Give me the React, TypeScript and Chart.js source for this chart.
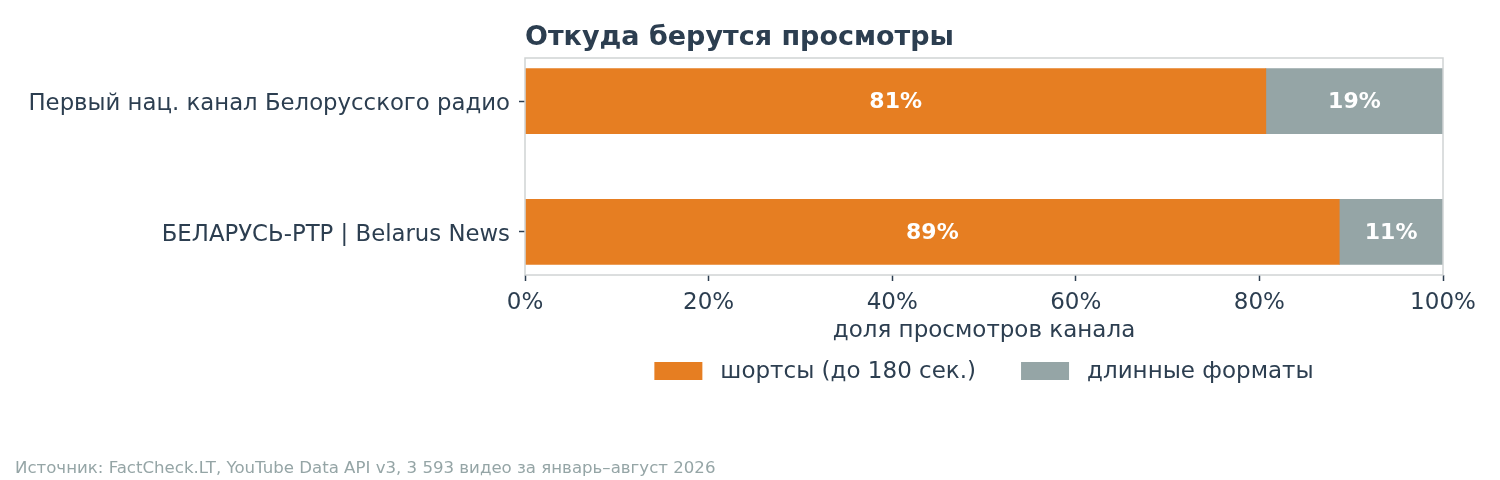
import { useEffect, useRef } from "react";
import { Chart, ChartConfiguration, registerables } from "chart.js";

Chart.register(...registerables);

const channels = ["Первый нац. канал Белорусского радио", "БЕЛАРУСЬ-РТР | Belarus News"];
const shortsShare = [80.7, 88.7];
const longShare = [19.3, 11.3];
const seriesNames = ["шортсы (до 180 сек.)", "длинные форматы"];
const seriesColors = ["#e67e22", "#95a5a6"];
const xTicks = [0, 20, 40, 60, 80, 100];

const TITLE = "Откуда берутся просмотры";
const X_TITLE = "доля просмотров канала";
const SOURCE = "Источник: FactCheck.LT, YouTube Data API v3, 3 593 видео за январь–август 2026";

const FONT = "'DejaVu Sans', sans-serif";
const TEXT = "#2c3e50";

export default function App() {
  const chartRef = useRef<HTMLCanvasElement>(null);
  const chartInstance = useRef<Chart | null>(null);

  useEffect(() => {
    document.body.style.margin = "0";
    if (!chartRef.current) return;
    if (chartInstance.current) chartInstance.current.destroy();
    const ctx = chartRef.current.getContext("2d");
    if (!ctx) return;

    // frame, bar labels, title, legend and source line
    const decor = {
      id: "decor",
      afterDatasetsDraw(chart: any) {
        const c = chart.ctx;
        const { left, right, top, bottom } = chart.chartArea;
        c.save();
        c.strokeStyle = "#d0d3d4";
        c.lineWidth = 1.5;
        c.strokeRect(left, top, right - left, bottom - top);

        c.fillStyle = "#ffffff";
        c.font = `bold 22px ${FONT}`;
        c.textAlign = "center";
        c.textBaseline = "middle";
        chart.data.datasets.forEach((ds: any, di: number) => {
          const meta = chart.getDatasetMeta(di);
          meta.data.forEach((bar: any, i: number) => {
            const v = ds.data[i].x;
            c.fillText(Math.round(v) + "%", (bar.base + bar.x) / 2, bar.y + 1);
          });
        });
        c.restore();
      },
      afterDraw(chart: any) {
        const c = chart.ctx;
        const { left, right } = chart.chartArea;
        c.save();
        c.fillStyle = TEXT;
        c.font = `bold 27px ${FONT}`;
        c.textAlign = "left";
        c.textBaseline = "middle";
        c.fillText(TITLE, left, 38);

        // legend centred under the plot
        c.font = `23px ${FONT}`;
        const boxW = 48, boxH = 18, gap = 18, itemGap = 45;
        const widths = seriesNames.map((n) => boxW + gap + c.measureText(n).width);
        const total = widths.reduce((a, b) => a + b, 0) + itemGap * (widths.length - 1);
        let x = (left + right) / 2 - total / 2;
        const y = 371;
        seriesNames.forEach((n, i) => {
          c.fillStyle = seriesColors[i];
          c.fillRect(x, y - boxH / 2, boxW, boxH);
          c.fillStyle = TEXT;
          c.fillText(n, x + boxW + gap, y + 1);
          x += widths[i] + itemGap;
        });

        c.fillStyle = "#95a5a6";
        c.font = `16.6px ${FONT}`;
        c.fillText(SOURCE, 15, 469);
        c.restore();
      },
    };

    const config: ChartConfiguration = {
      type: "bar",
      data: {
        datasets: [
          {
            label: seriesNames[0],
            data: shortsShare.map((v, i) => ({ x: v, y: i })) as any,
            backgroundColor: seriesColors[0],
            barThickness: 65,
          },
          {
            label: seriesNames[1],
            data: longShare.map((v, i) => ({ x: v, y: i })) as any,
            backgroundColor: seriesColors[1],
            barThickness: 65,
          },
        ],
      },
      options: {
        indexAxis: "y",
        animation: false,
        responsive: false,
        layout: { padding: { left: 0, right: 57, top: 58, bottom: 135 } },
        plugins: {
          legend: { display: false },
          tooltip: { enabled: false },
        },
        scales: {
          x: {
            type: "linear",
            stacked: true,
            min: 0,
            max: 100,
            afterBuildTicks: (scale: any) => {
              scale.ticks = xTicks.map((v) => ({ value: v }));
            },
            afterFit: (scale: any) => {
              scale.height = 70;
            },
            border: { display: false },
            grid: { drawOnChartArea: false, drawTicks: true, tickLength: 6, tickColor: TEXT, tickWidth: 1.5 },
            ticks: {
              color: TEXT,
              font: { family: FONT, size: 23 },
              padding: 8,
              maxRotation: 0,
              callback: (v: any) => v + "%",
            },
            title: {
              display: true,
              text: X_TITLE,
              color: TEXT,
              font: { family: FONT, size: 23 },
              padding: { top: 4, bottom: 0 },
            },
          },
          y: {
            type: "linear",
            stacked: true,
            reverse: true,
            offset: false,
            min: -0.33,
            max: 1.33,
            afterBuildTicks: (scale: any) => {
              scale.ticks = channels.map((_, i) => ({ value: i }));
            },
            afterFit: (scale: any) => {
              scale.width = 525;
            },
            border: { display: false },
            grid: {
              offset: false,
              drawOnChartArea: false,
              drawTicks: true,
              tickLength: 6,
              tickColor: TEXT,
              tickWidth: 1.5,
            },
            ticks: {
              color: TEXT,
              font: { family: FONT, size: 22.8 },
              padding: 9,
              labelOffset: 3,
              callback: (v: any) => channels[v] ?? "",
            },
          },
        },
      },
      plugins: [decor],
    };

    chartInstance.current = new Chart(ctx, config);
    return () => {
      if (chartInstance.current) chartInstance.current.destroy();
    };
  }, []);

  return (
    <div style={{ width: 1500, height: 480, background: "#fff" }}>
      <canvas ref={chartRef} width={1500} height={480} />
    </div>
  );
}
